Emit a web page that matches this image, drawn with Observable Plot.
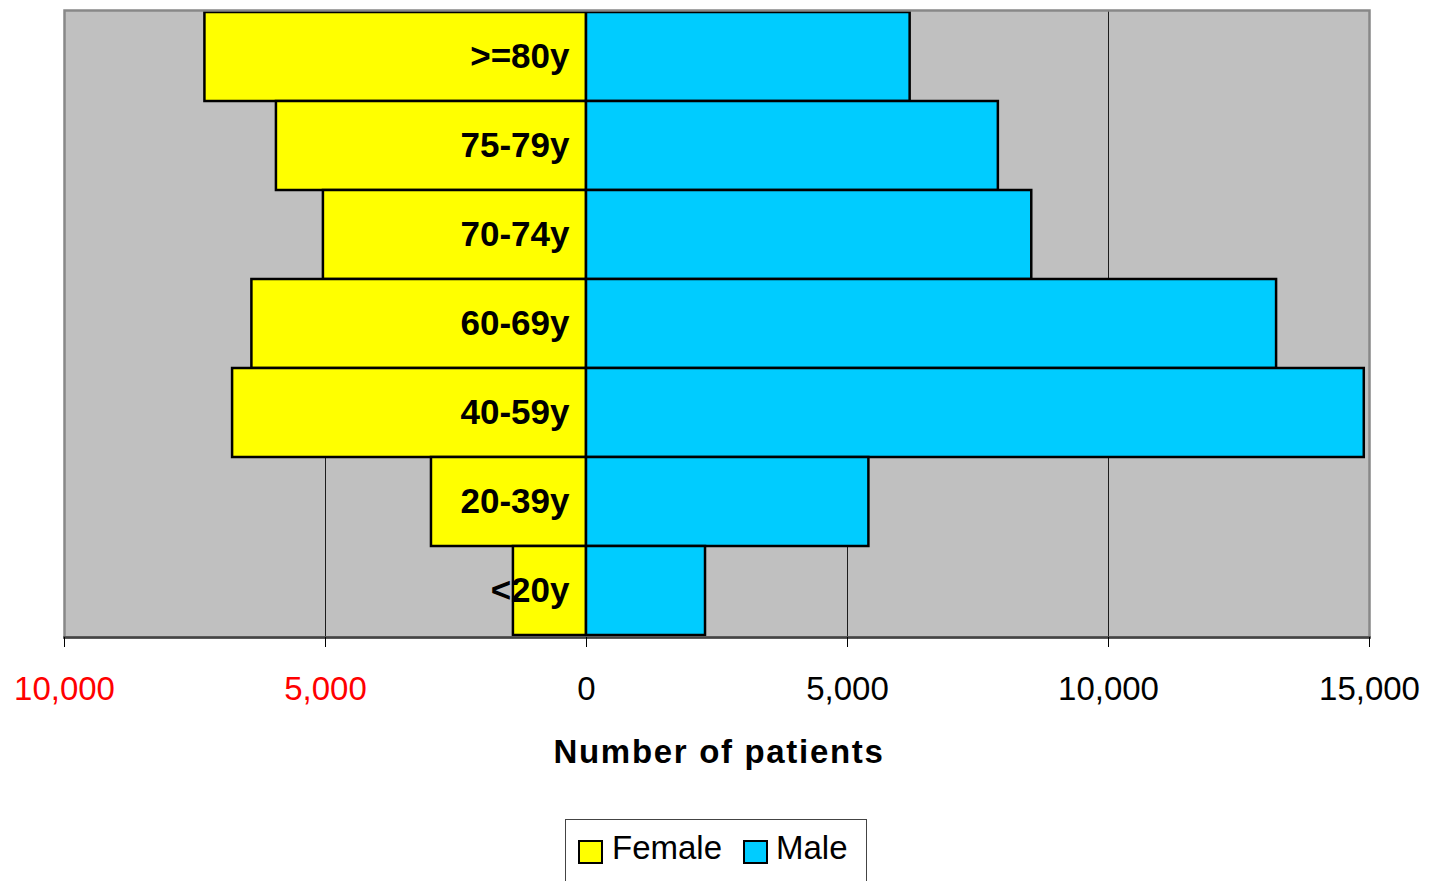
<!DOCTYPE html>
<html>
<head>
<meta charset="utf-8">
<script src="https://cdn.jsdelivr.net/npm/d3@7"></script>
<script src="https://cdn.jsdelivr.net/npm/@observablehq/plot@0.6"></script>
<style>
  html, body { margin: 0; padding: 0; background: #fff; }
  body { width: 1431px; height: 881px; overflow: hidden; position: relative; font-family: "Liberation Sans", Arial, sans-serif; }
  #legend {
    position: absolute; left: 565px; top: 819px; width: 302px; height: 80px;
    border: 1px solid #444; box-sizing: border-box; background: #fff;
    font-size: 33px; color: #000;
  }
  .item { position: absolute; top: 8px; display: flex; align-items: center; }
  .sw { width: 21px; height: 20px; border: 2px solid #000; display: inline-block; margin-top: 8px; }
  .lbl { margin-left: 8px; line-height: 40px; }
</style>
</head>
<body>
<div id="chart"></div>
<div id="legend">
  <div class="item" style="left:12px"><span class="sw" style="background:#ffff00"></span><span class="lbl" style="margin-left:9px">Female</span></div>
  <div class="item" style="left:177px"><span class="sw" style="background:#00ccff"></span><span class="lbl" style="margin-left:8px">Male</span></div>
</div>
<script>
const ageGroups = [">=80y", "75-79y", "70-74y", "60-69y", "40-59y", "20-39y", "<20y"];
const female = [7310, 5940, 5040, 6410, 6780, 2970, 1400];
const male = [6200, 7890, 8530, 13220, 14900, 5410, 2280];
const negTicks = [-10000, -5000];
const posTicks = [0, 5000, 10000, 15000];
const gridTicks = [-5000, 5000, 10000];
const xLabel = "Number of patients";

const rows = ageGroups.map((a, i) => ({age: a, female: female[i], male: male[i]}));
const fmt = d => d3.format(",")(Math.abs(d));
const font = "Liberation Sans, Arial, sans-serif";

const chart = Plot.plot({
  width: 1431,
  height: 800,
  marginLeft: 64,
  marginRight: 62,
  marginTop: 10,
  marginBottom: 163,
  style: {fontFamily: font, background: "#fff"},
  x: {domain: [-10000, 15000]},
  y: {domain: ageGroups, padding: 0, axis: null},
  marks: [
    Plot.frame({fill: "#c0c0c0", stroke: null}),
    Plot.ruleX(gridTicks, {stroke: "#000", strokeWidth: 1, strokeOpacity: 0.85}),
    Plot.barX(rows, {x1: 0, x2: d => -d.female, y: "age", fill: "#ffff00", stroke: "#000", strokeWidth: 2.5}),
    Plot.barX(rows, {x1: 0, x2: "male", y: "age", fill: "#00ccff", stroke: "#000", strokeWidth: 2.5}),
    Plot.frame({stroke: "#888", strokeWidth: 2.5, fill: null}),
    Plot.frame({anchor: "bottom", stroke: "#444", strokeWidth: 2.5}),
    Plot.axisX(negTicks, {tickSize: 10, tickPadding: 29, tickFormat: fmt, fontSize: 33, fill: "#ff0000", stroke: "#000", label: null}),
    Plot.axisX(posTicks, {tickSize: 10, tickPadding: 29, tickFormat: fmt, fontSize: 33, fill: "#000", stroke: "#000", label: null}),
    Plot.text(rows, {x: 0, y: "age", text: "age", dx: -17, textAnchor: "end", fontSize: 35, fontWeight: "bold", fill: "#000", ariaLabel: "agelabels"}),
    Plot.text([xLabel], {frameAnchor: "bottom", lineAnchor: "middle", text: d => d, dy: 115, dx: 2, fontSize: 33, fontWeight: "bold", fill: "#000"})
  ]
});
document.getElementById("chart").appendChild(chart);

// condense the age-group labels horizontally, like the original
d3.select(chart).selectAll('g[aria-label="agelabels"] text').each(function() {
  const t = this.getAttribute("transform");
  if (t) {
    this.setAttribute("transform", t + " scale(0.82,1)");
  } else {
    const x = +this.getAttribute("x") || 0, y = +this.getAttribute("y") || 0;
    this.removeAttribute("x"); this.removeAttribute("y");
    this.setAttribute("transform", `translate(${x},${y}) scale(0.82,1)`);
  }
});
// widen the axis title's spacing like the original
chart.querySelectorAll("text").forEach(el => {
  if (el.textContent === xLabel) {
    el.setAttribute("textLength", "331");
    el.setAttribute("lengthAdjust", "spacing");
    el.style.letterSpacing = "1.7px";
  }
});
</script>
</body>
</html>
